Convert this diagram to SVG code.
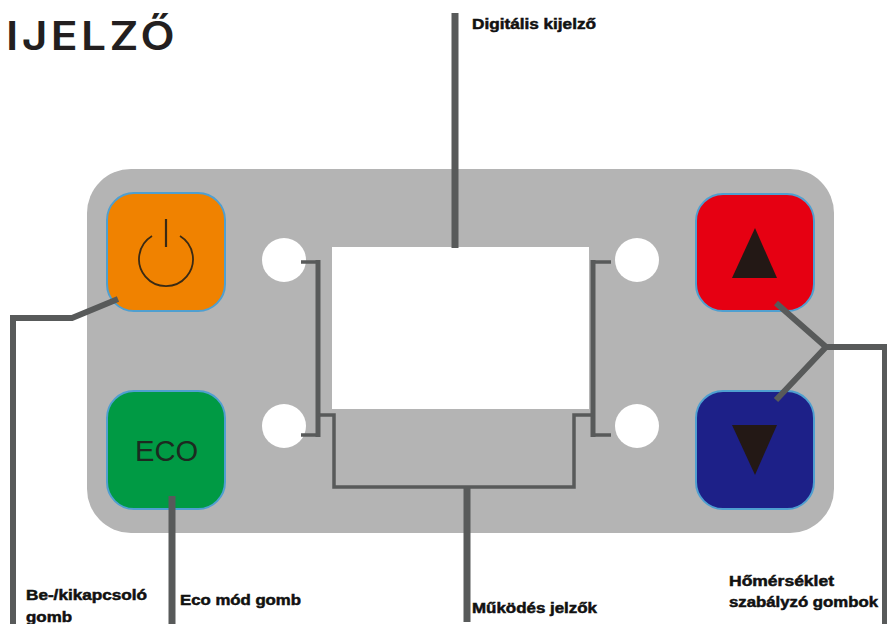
<svg xmlns="http://www.w3.org/2000/svg" width="887" height="624" viewBox="0 0 887 624">
<style>
.btn{stroke:#4f9fd0;stroke-width:2}
.led{fill:#fff}
.c{fill:none;stroke:#585a5a;stroke-linejoin:miter}
.lb{font-family:"Liberation Sans",Arial,sans-serif;font-weight:700;font-size:14.500px;fill:#111;stroke:#111;stroke-width:.5}
</style>
<rect width="887" height="624" fill="#fff"/>
<text x="6" y="50" font-family="Inter,'Noto Sans',sans-serif" font-size="39" font-weight="600" letter-spacing="3" textLength="172" lengthAdjust="spacingAndGlyphs" fill="#231f20">IJELZŐ</text>
<g id="panel"><rect x="87" y="169" width="747" height="364" rx="44" fill="#b4b4b4"/></g>
<g id="display"><rect x="332" y="247" width="257" height="162" fill="#fff"/></g>
<g id="led-tl"><circle class="led" cx="284" cy="260" r="22"/></g>
<g id="led-bl"><circle class="led" cx="284" cy="426" r="22"/></g>
<g id="led-tr"><circle class="led" cx="637" cy="260" r="22"/></g>
<g id="led-br"><circle class="led" cx="637" cy="426" r="22"/></g>
<g id="power"><rect class="btn" x="107" y="193" width="118" height="118" rx="27" fill="#f08200"/>
<path d="M152 236A27 27 0 1 0 180 236" fill="none" stroke="#3a2a14" stroke-width="1.800"/><path d="M166 219V247" stroke="#3a2a14" stroke-width="2.200"/></g>
<g id="eco"><rect class="btn" x="107" y="391" width="118" height="118" rx="27" fill="#009a44"/>
<text x="135" y="461" font-family="'Liberation Sans',Arial,sans-serif" font-size="29" textLength="63" lengthAdjust="spacingAndGlyphs" fill="#1c2a20">ECO</text></g>
<g id="up"><rect class="btn" x="696" y="194" width="118" height="117" rx="27" fill="#e60012"/><path d="M755 228L777 278H732Z" fill="#231815"/></g>
<g id="down"><rect class="btn" x="696" y="391" width="118" height="118" rx="27" fill="#1d2088"/><path d="M732 425H777L755 475Z" fill="#231815"/></g>
<g id="connectors" class="c">
<path d="M455 13V248" stroke-width="7"/>
<path d="M118 299L72 318H13V624" stroke-width="6"/>
<path d="M172 496V624" stroke-width="7"/>
<path d="M301 262H318M301 435H318" stroke-width="3.500"/>
<path d="M318 260V437" stroke-width="5"/>
<path d="M611 262H593M611 435H593" stroke-width="3.500"/>
<path d="M593 260V437" stroke-width="5"/>
<path d="M318 415H334V487H574V415H593" stroke-width="3.500"/>
<path d="M467 487V622" stroke-width="7"/>
<path d="M776 303L826 347L776 400M826 347H885V624" stroke-width="6"/>
</g>
<g id="labels">
<text class="lb" x="472" y="29" textLength="124" lengthAdjust="spacingAndGlyphs">Digitális kijelző</text>
<text class="lb" x="26" y="600" textLength="121" lengthAdjust="spacingAndGlyphs">Be-/kikapcsoló</text>
<text class="lb" x="26" y="622" textLength="46" lengthAdjust="spacingAndGlyphs">gomb</text>
<text class="lb" x="180" y="605" textLength="121" lengthAdjust="spacingAndGlyphs">Eco mód gomb</text>
<text class="lb" x="472" y="613" textLength="125" lengthAdjust="spacingAndGlyphs">Működés jelzők</text>
<text class="lb" x="729" y="586" textLength="105" lengthAdjust="spacingAndGlyphs">Hőmérséklet</text>
<text class="lb" x="729" y="607" textLength="149" lengthAdjust="spacingAndGlyphs">szabályzó gombok</text>
</g>
</svg>
